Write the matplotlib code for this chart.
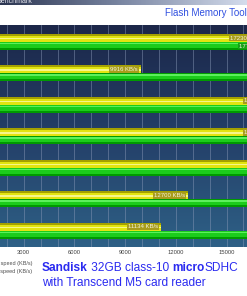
import numpy as np
import matplotlib
matplotlib.use("Agg")
import matplotlib.pyplot as plt
from matplotlib.colors import LinearSegmentedColormap

plt.rcParams['font.family'] = ['Liberation Sans', 'DejaVu Sans']

# benchmark values (KB/s), one pair of bars per test block
read_speed = [17230, 9916, 18020, 18050, 18310, 12700, 11134]
write_speed = [17745, 18330, 19100, 19250, 19050, 19200, 19150]
xticks = [3000, 6000, 9000, 12000, 15000]
legend_labels = ["Read speed (KB/s)", "Write speed (KB/s)"]

W, H = 247, 296
fig = plt.figure(figsize=(W / 100, H / 100), dpi=100)
fig.patch.set_facecolor('white')

# window title strip
tb = fig.add_axes([0, 1 - 5 / H, 1, 5 / H])
tb.imshow(np.linspace(0, 1, 100).reshape(1, -1), aspect='auto',
          cmap=LinearSegmentedColormap.from_list('tb', ['#2c3652', '#7c88a4', '#d4dcec']))
tb.axis('off')
fig.text(32 / W, 1 - 1.5 / H, "Benchmark", ha='right', va='center', fontsize=5, color='#e8e8f0')

fig.text(165 / W, 1 - 13 / H, "Flash Memory Toolkit", ha='left', va='center',
         fontsize=7, color='#3050e0')

# main chart, partially outside the crop on both sides
px_per_k = 16.9
xmax = 20000
ax = fig.add_axes([-27 / W, 49 / H, xmax / 1000 * px_per_k / W, 222 / H])
ylim = (6.51, -0.54)
ax.set_xlim(0, xmax)
ax.set_ylim(*ylim)

bg = LinearSegmentedColormap.from_list('bg', ['#1c2749', '#243f68', '#2e6086'])
ax.imshow(np.linspace(0, 1, 200).reshape(-1, 1), aspect='auto', cmap=bg,
          extent=(0, xmax, ylim[0], ylim[1]), origin='upper', zorder=0)
for g in range(1000, xmax, 1000):
    ax.axvline(g, color='#8a9ab8', lw=0.6, alpha=0.55, zorder=1)

pos = np.arange(len(read_speed))
h = 0.254
yr = pos - h / 2
yw = pos + h / 2

# yellow read bars, layered for a shaded look
ax.barh(yr, read_speed, height=h, color='#a4a000', zorder=2)
ax.barh(yr + h * 0.1, read_speed, height=h * 0.7, color='#e2e410', zorder=3)
ax.barh(yr + h * 0.05, read_speed, height=h * 0.2, color='#f6f68a', zorder=4)
# green write bars
ax.barh(yw, write_speed, height=h, color='#009a00', zorder=2)
ax.barh(yw - h * 0.1, write_speed, height=h * 0.7, color='#1ccc1c', zorder=3)
ax.barh(yw - h * 0.3, write_speed, height=h * 0.2, color='#5cf05c', zorder=4)

for y, v in zip(yr, read_speed):
    ax.annotate(f"{v} KB/s", xy=(v, y), xytext=(-2, 0), textcoords='offset points',
                ha='right', va='center', fontsize=4.3, color='#f4f4dc', zorder=6,
                bbox=dict(boxstyle='square,pad=0.15', fc='#a89c1c', ec='none'))
for y, v in zip(yw, write_speed):
    ax.annotate(f"{v} KB/s", xy=(v, y), xytext=(-2, 0), textcoords='offset points',
                ha='right', va='center', fontsize=4.3, color='#f4f4dc', zorder=6,
                bbox=dict(boxstyle='square,pad=0.15', fc='#16a016', ec='none'))

ax.set_yticks([])
ax.set_xticks(xticks)
ax.set_xticklabels([str(t) for t in xticks], fontsize=4.2, color='#404040')
ax.tick_params(axis='x', length=0, pad=2.5)
for s in ax.spines.values():
    s.set_visible(False)

# legend text (swatches are outside the crop)
fig.text(32 / W, 1 - 263 / H, legend_labels[0], ha='right', va='center', fontsize=4, color='#505050')
fig.text(32 / W, 1 - 272 / H, legend_labels[1], ha='right', va='center', fontsize=4, color='#505050')

# caption with bold parts
cap = dict(fontsize=8.6, color='#2a2af0', va='center', annotation_clip=False)
t = ax.annotate("Sandisk", xy=(42 / W, 1 - 268 / H), xycoords='figure fraction', fontweight='bold', **cap)
t = ax.annotate(" 32GB class-10 ", xy=(1, 0.5), xycoords=t, **cap)
t = ax.annotate("micro", xy=(1, 0.5), xycoords=t, fontweight='bold', **cap)
t = ax.annotate("SDHC", xy=(1, 0.5), xycoords=t, **cap)
ax.annotate("with Transcend M5 card reader", xy=(42 / W, 1 - 283 / H), xycoords='figure fraction', **cap)

fig.savefig("out.png", dpi=100)
